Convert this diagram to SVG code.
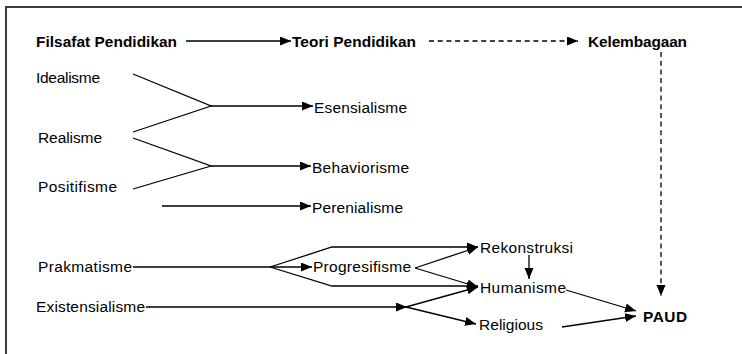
<svg xmlns="http://www.w3.org/2000/svg" width="742" height="354" viewBox="0 0 742 354">
<defs>
<marker id="ah" markerUnits="userSpaceOnUse" markerWidth="12" markerHeight="10" refX="11" refY="4.5" orient="auto">
<path d="M0,0 L11,4.5 L0,9 z" fill="#000"/>
</marker>
<style>
.t{font-family:"Liberation Sans",Arial,sans-serif;font-size:15.5px;fill:#000}
.b{font-family:"Liberation Sans",Arial,sans-serif;font-size:15.4px;font-weight:bold;fill:#000}
.c{stroke:#000;stroke-width:1.3;fill:none}
.a{marker-end:url(#ah)}
.d{stroke-dasharray:5,3.7}
</style>
</defs>
<rect width="742" height="354" fill="#fff"/>
<path d="M6,360 L6,7 L750,7" fill="none" stroke="#3c3c3c" stroke-width="2"/>
<g id="nodes">
<g id="filsafat"><text class="b" x="36" y="47" textLength="141">Filsafat Pendidikan</text></g>
<g id="teori"><text class="b" x="292" y="47" textLength="124">Teori Pendidikan</text></g>
<g id="kelembagaan"><text class="b" x="588" y="47" textLength="99">Kelembagaan</text></g>
<g id="idealisme"><text class="t" x="36" y="83" textLength="64">Idealisme</text></g>
<g id="esensialisme"><text class="t" x="314" y="113" textLength="93">Esensialisme</text></g>
<g id="realisme"><text class="t" x="38" y="143" textLength="64">Realisme</text></g>
<g id="behaviorisme"><text class="t" x="312" y="173" textLength="97">Behaviorisme</text></g>
<g id="positifisme"><text class="t" x="38" y="192" textLength="79">Positifisme</text></g>
<g id="perenialisme"><text class="t" x="312" y="213" textLength="91">Perenialisme</text></g>
<g id="prakmatisme"><text class="t" x="38" y="272" textLength="94">Prakmatisme</text></g>
<g id="progresifisme"><text class="t" x="313" y="272" textLength="98">Progresifisme</text></g>
<g id="existensialisme"><text class="t" x="36" y="312" textLength="109">Existensialisme</text></g>
<g id="rekonstruksi"><text class="t" x="480" y="253" textLength="93">Rekonstruksi</text></g>
<g id="humanisme"><text class="t" x="480" y="293" textLength="86">Humanisme</text></g>
<g id="religious"><text class="t" x="479" y="330" textLength="64">Religious</text></g>
<g id="paud"><text class="b" x="643" y="322" textLength="44">PAUD</text></g>
</g>
<g id="connectors">
<line class="c a" x1="186" y1="41" x2="291" y2="41"/>
<line class="c a d" x1="429" y1="41" x2="578" y2="41"/>
<line class="c a d" x1="661" y1="52" x2="661" y2="296"/>
<polyline class="c" points="133,74 211,106 133,132"/>
<line class="c a" x1="211" y1="106" x2="313" y2="106"/>
<polyline class="c" points="133,138 211,166 133,189"/>
<line class="c a" x1="211" y1="166" x2="311" y2="166"/>
<line class="c a" x1="162" y1="206" x2="311" y2="206"/>
<line class="c" x1="133" y1="267" x2="270" y2="267"/>
<line class="c a" x1="270" y1="267" x2="312" y2="267"/>
<polyline class="c a" points="270,267 332,247 478,247"/>
<polyline class="c a" points="270,267 332,286 478,286"/>
<line class="c a" x1="415" y1="268" x2="478" y2="247"/>
<line class="c a" x1="415" y1="268" x2="478" y2="287"/>
<line class="c a" x1="146" y1="307" x2="407" y2="307"/>
<line class="c a" x1="406" y1="307" x2="478" y2="287"/>
<line class="c a" x1="406" y1="307" x2="476" y2="324"/>
<line class="c a" x1="529" y1="255" x2="529" y2="279"/>
<line class="c a" x1="566" y1="290" x2="636" y2="311"/>
<line class="c a" x1="562" y1="327" x2="636" y2="316"/>
</g>
</svg>
